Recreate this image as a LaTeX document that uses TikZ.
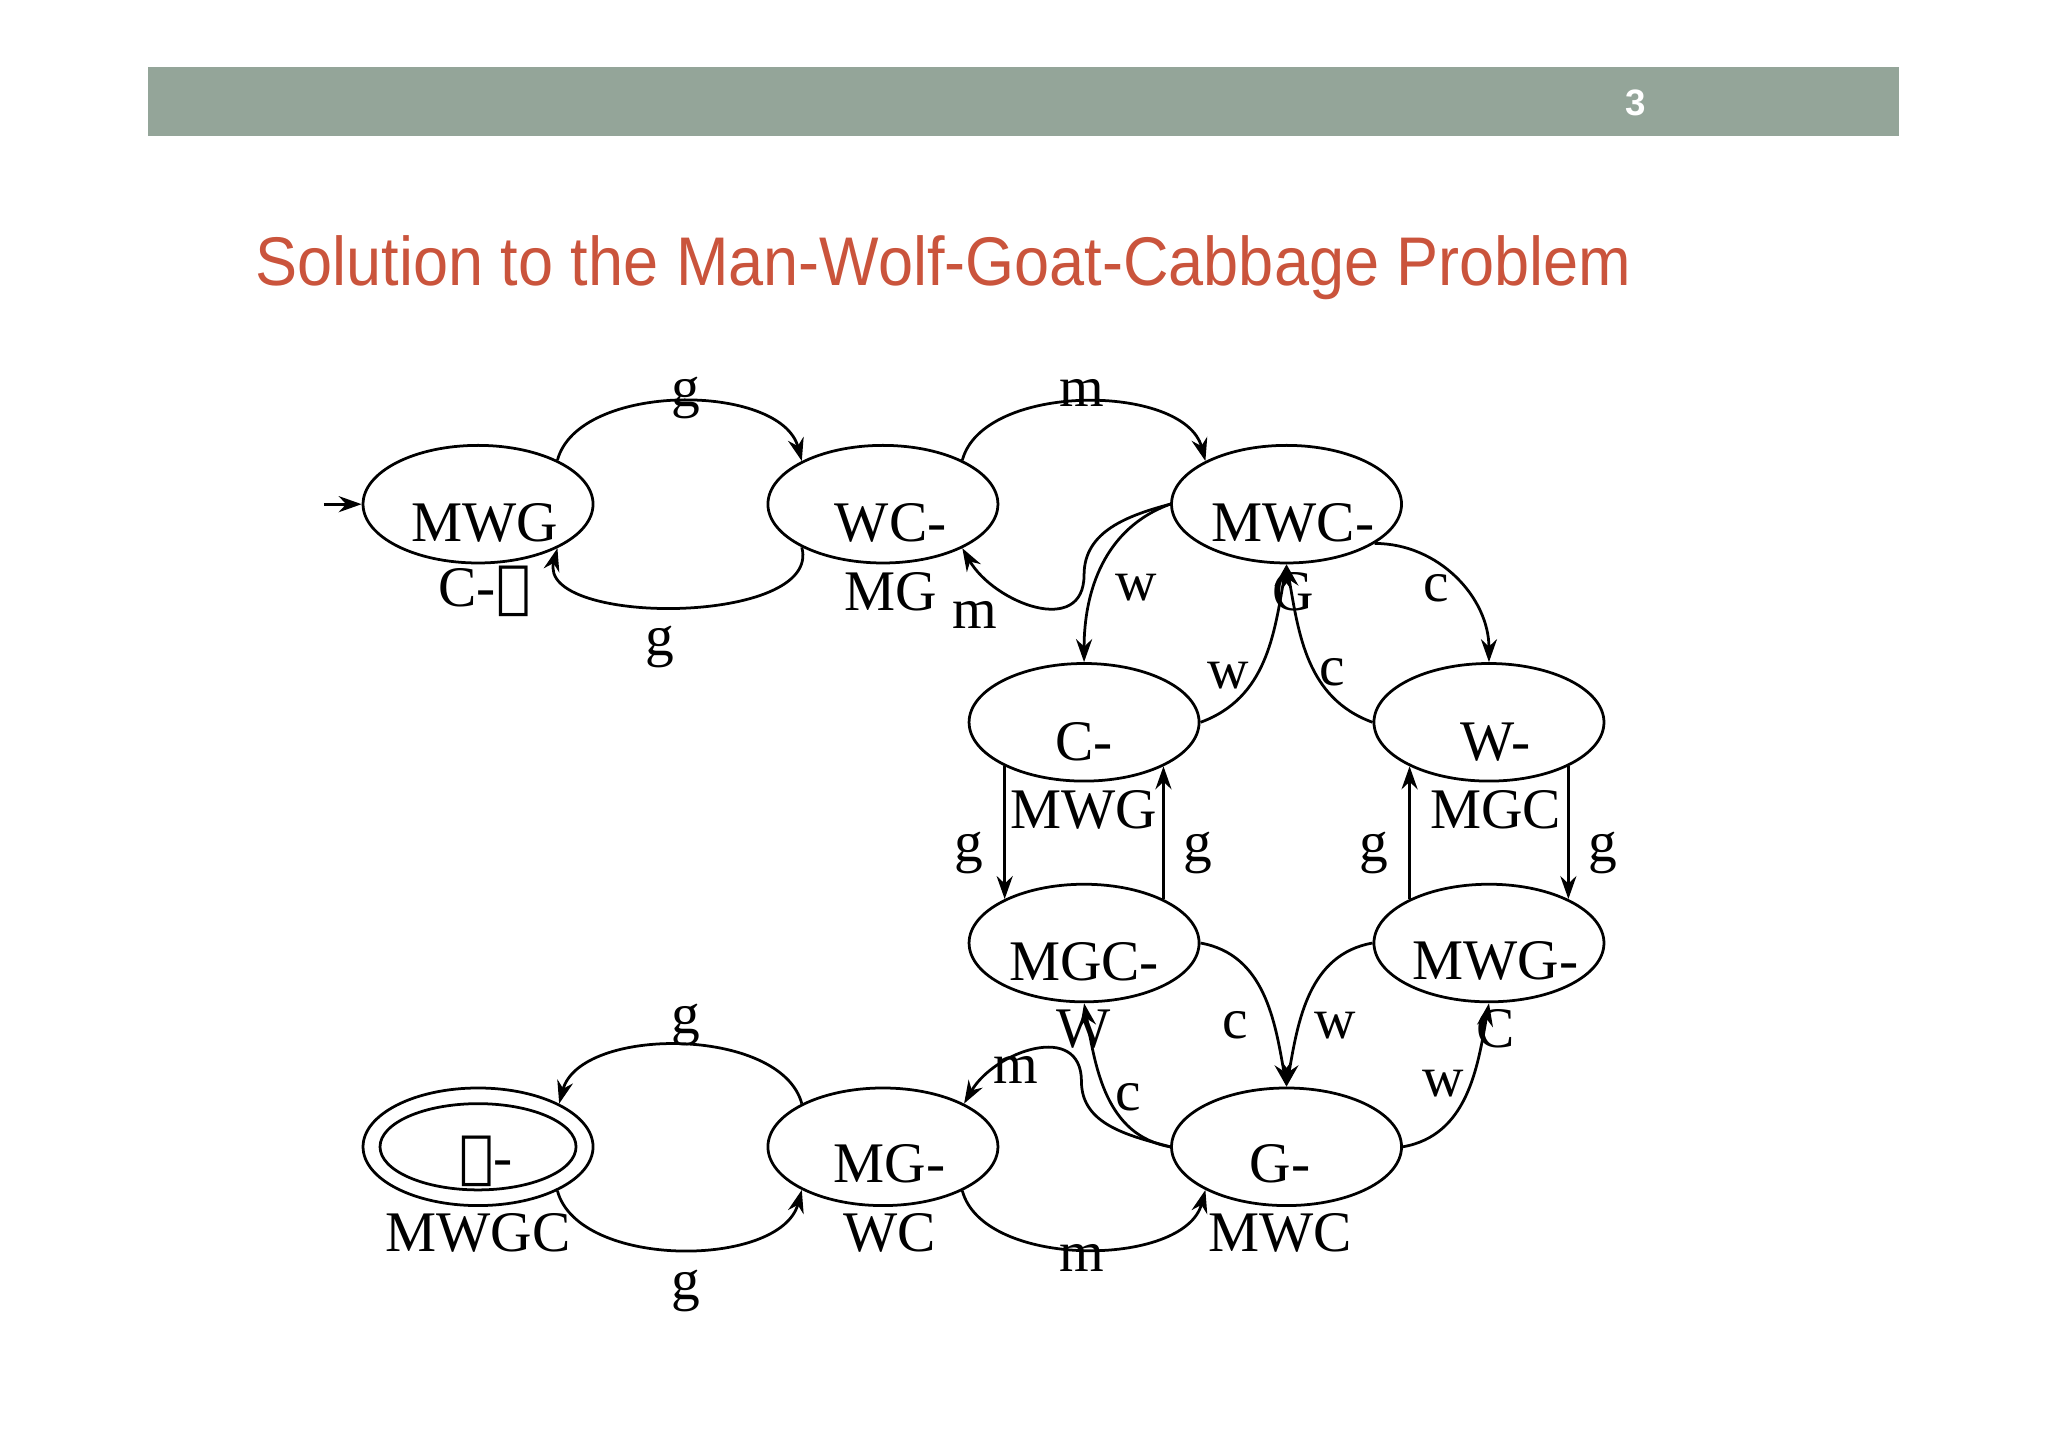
\documentclass[tikz,border=0pt]{standalone}
\usepackage{fontspec}
\setmainfont{Liberation Serif}
\newfontfamily\titlefont{Liberation Sans}
\newfontfamily\symfont{DejaVu Serif}
\usetikzlibrary{arrows.meta,shapes.geometric}
\definecolor{barcol}{RGB}{148,165,153}
\definecolor{titlecol}{RGB}{202,84,60}
\newcommand{\emptyst}{{\symfont ∅}}
\begin{document}
\begin{tikzpicture}[x=0.01cm,y=-0.01cm,
 st/.style={ellipse,draw,line width=0.6pt,minimum width=1.76cm,minimum height=0.9cm,inner sep=0pt},
 tx/.style={font=\fontsize{12.5}{14}\selectfont,inner sep=0pt},
 lb/.style={font=\fontsize{12.5}{14}\selectfont,inner sep=0pt},
 ed/.style={-{Stealth[length=5pt,width=3.5pt]},line width=0.6pt}]
\useasboundingbox (0,0) rectangle (1568,1108);
\fill[barcol] (113,51) rectangle (1454,104);
\node[text=white,font=\titlefont\fontsize{8}{9}\selectfont\bfseries] (pg) at (1252,79) {3};
\node[text=titlecol,font=\titlefont\fontsize{15}{18}\selectfont,anchor=west,inner sep=0pt] (title) at (195,205) {\scalebox{0.915}[1]{Solution to the Man-Wolf-Goat-Cabbage Problem}};
% states
\node[st] (s1) at (366,386) {};
\node[st] (s2) at (676,386) {};
\node[st] (s3) at (985,386) {};
\node[st] (s4) at (830,553) {};
\node[st] (s5) at (1140,553) {};
\node[st] (s6) at (830,722) {};
\node[st] (s7) at (1140,722) {};
\node[st] (s8) at (985,878) {};
\node[st] (s9) at (676,878) {};
\node[st] (s10) at (366,878) {};
\node[ellipse,draw,line width=0.6pt,minimum width=1.5cm,minimum height=0.66cm] (s10i) at (366,878) {};
% texts
\node[tx] (t1a) at (371,400) {MWG}; \node[tx] (t1b) at (371,453) {C-\emptyst};
\node[tx] (t2a) at (682,400) {WC-}; \node[tx] (t2b) at (682,453) {MG};
\node[tx] (t3a) at (990,400) {MWC-}; \node[tx] (t3b) at (990,453) {G};
\node[tx] (t4a) at (830,568) {C-}; \node[tx] (t4b) at (830,620) {MWG};
\node[tx] (t5a) at (1145,568) {W-}; \node[tx] (t5b) at (1145,620) {MGC};
\node[tx] (t6a) at (830,736) {MGC-}; \node[tx] (t6b) at (830,788) {W};
\node[tx] (t7a) at (1145,736) {MWG-}; \node[tx] (t7b) at (1145,788) {C};
\node[tx] (t8a) at (980,891) {G-}; \node[tx] (t8b) at (980,944) {MWC};
\node[tx] (t9a) at (681,891) {MG-}; \node[tx] (t9b) at (681,944) {WC};
\node[tx] (t10a) at (372,889) {\emptyst-}; \node[tx] (t10b) at (366,944) {MWGC};
% initial
\coordinate (init) at (248,386);
\draw[ed] (init) -- (s1.180);
\coordinate (k1) at (830,440);
\coordinate (k2) at (828,828);
% edges
\draw[ed] (s1.29) to[out=75,in=105,looseness=0.85] (s2.152);
\draw[ed] (s2.208) to[out=-75,in=-105,looseness=0.85] (s1.-29);
\draw[ed] (s2.29) to[out=75,in=105,looseness=0.85] (s3.152);
\draw[ed] (s3.180) to[out=195,in=90] (k1) to[out=270,in=-60,looseness=1.3] (s2.331);
\draw[ed] (s3.180) to[out=200,in=90] (s4.90);
\draw[ed] (s4.0) to[out=20,in=-100] (s3.270);
\draw[ed] (s5.180) to[out=160,in=-80] (s3.270);
\draw[ed] (s3.-24) to[out=0,in=90] (s5.90);
\draw[ed] (s4.209) -- (s6.151);
\draw[ed] (s6.29) -- (s4.-29);
\draw[ed] (s7.151) -- (s5.209);
\draw[ed] (s5.-29) -- (s7.29);
\draw[ed] (s6.0) to[out=-10,in=100] (s8.90);
\draw[ed] (s7.180) to[out=190,in=80] (s8.90);
\draw[ed] (s8.180) to[out=170,in=-80] (s6.270);
\draw[ed] (s8.0) to[out=10,in=-100] (s7.270);
\draw[ed] (s8.180) to[out=165,in=270] (k2) to[out=90,in=60,looseness=1.3] (s9.28);
\draw[ed] (s9.-29) to[out=-75,in=-105,looseness=0.85] (s8.208);
\draw[ed] (s9.152) to[out=105,in=75,looseness=0.85] (s10.28);
\draw[ed] (s10.-29) to[out=-75,in=-105,looseness=0.85] (s9.208);
% labels
\node[lb] (l1) at (525,305) {g};
\node[lb] (l2) at (505,495) {g};
\node[lb] (l3) at (828,301) {m};
\node[lb] (l4) at (746,471) {m};
\node[lb] (l5) at (870,450) {w};
\node[lb] (l6) at (1100,450) {c};
\node[lb] (l7) at (940,517) {w};
\node[lb] (l8) at (1020,515) {c};
\node[lb] (l9) at (742,653) {g};
\node[lb] (l10) at (917,653) {g};
\node[lb] (l11) at (1052,653) {g};
\node[lb] (l12) at (1227,653) {g};
\node[lb] (l13) at (946,785) {c};
\node[lb] (l14) at (1022,785) {w};
\node[lb] (l15) at (778,819) {m};
\node[lb] (l16) at (864,840) {c};
\node[lb] (l17) at (1105,830) {w};
\node[lb] (l18) at (525,785) {g};
\node[lb] (l19) at (525,988) {g};
\node[lb] (l20) at (828,963) {m};
\end{tikzpicture}
\end{document}
